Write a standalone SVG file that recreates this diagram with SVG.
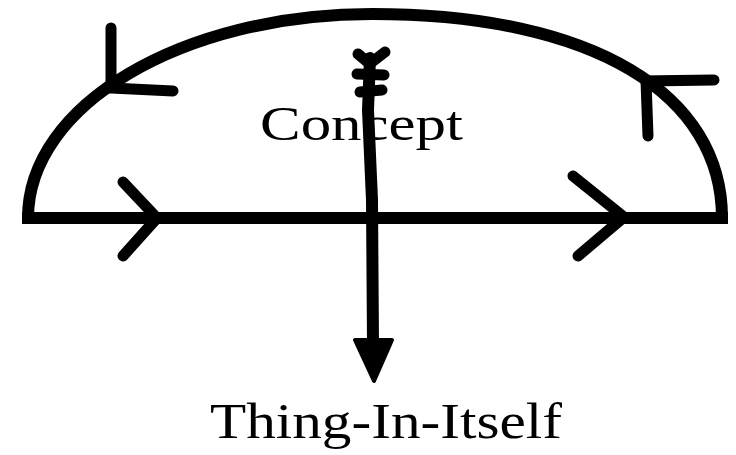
<svg xmlns="http://www.w3.org/2000/svg" width="736" height="455" viewBox="0 0 736 455">
  <style>
    .ln { fill: none; stroke: #000; stroke-width: 12; stroke-linecap: round; stroke-linejoin: round; }
    .hd { fill: none; stroke: #000; stroke-width: 11; stroke-linecap: round; stroke-linejoin: miter; }
    .fl { fill: none; stroke: #000; stroke-width: 11; stroke-linecap: round; }
    .lbl { font-family: "Liberation Serif", "Times New Roman", serif; fill: #000; }
  </style>
  <rect width="736" height="455" fill="#fff"/>
  <g id="connectors">
    <!-- dome -->
    <path class="ln" d="M28,218 C28,105 182,14 372,14 C595,14 722,95 722,218" style="stroke-linecap:butt"/>
    <!-- baseline -->
    <path class="ln" d="M22,218 L728,218" style="stroke-linecap:butt"/>
    <!-- baseline arrowheads -->
    <polyline class="hd" points="123,182 157,218 123,256"/>
    <polyline class="hd" points="573,176 624,217 578,256"/>
    <!-- arc arrowheads -->
    <polyline class="hd" points="111,28 111,88 173,91"/>
    <polyline class="hd" points="648,136 646,81 714,80"/>
    <!-- vertical arrow -->
    <path class="ln" d="M370,58 L368,110 L372,200 L373,345"/>
    <path d="M355,340 L392,340 L374,381 Z" fill="#000" stroke="#000" stroke-width="4" stroke-linejoin="round"/>
    <path class="fl" d="M358,54 L370,64 M385,52 L372,62 M357,74 L384,75 M360,92 L382,90"/>
  </g>
  <g id="concept">
    <text class="lbl" x="260" y="140" font-size="48" textLength="203" lengthAdjust="spacingAndGlyphs">Concept</text>
  </g>
  <g id="thing">
    <text class="lbl" x="210" y="438" font-size="50" textLength="352" lengthAdjust="spacingAndGlyphs">Thing-In-Itself</text>
  </g>
</svg>
